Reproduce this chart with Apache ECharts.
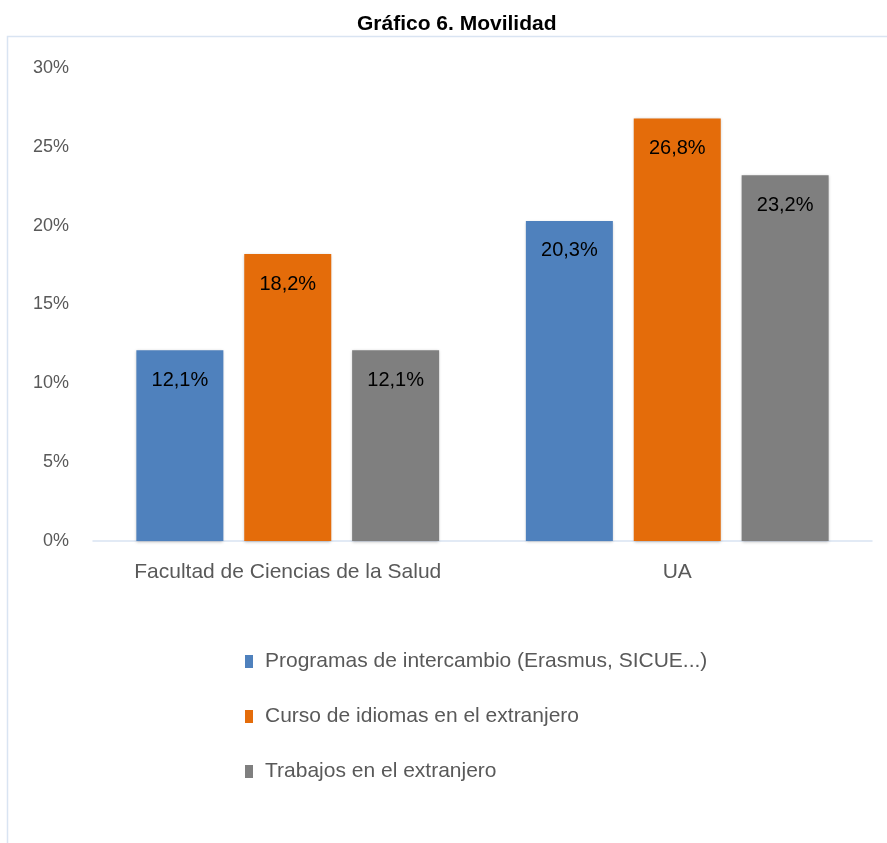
<!DOCTYPE html>
<html><head><meta charset="utf-8">
<script src="https://cdn.jsdelivr.net/npm/echarts@6/dist/echarts.min.js"></script>
<style>html,body{margin:0;padding:0;background:#fff}#c{width:887px;height:843px}</style>
</head><body><div id="c"></div>
<script>
const categories = ['Facultad de Ciencias de la Salud', 'UA'];
const seriesNames = ['Programas de intercambio (Erasmus, SICUE...)', 'Curso de idiomas en el extranjero', 'Trabajos en el extranjero'];
const intercambio = [12.1, 20.3];
const idiomas = [18.2, 26.8];
const trabajos = [12.1, 23.2];
const colors = ['#4F81BD', '#E46C0A', '#7F7F7F'];
const FONT = 'Liberation Sans';
const values = [intercambio, idiomas, trabajos];
const chart = echarts.init(document.getElementById('c'));
chart.setOption({
  animation: false,
  textStyle: {fontFamily: FONT},
  title: {text: 'Gráfico 6. Movilidad', left: 352, top: 9,
    textStyle: {fontFamily: FONT, fontSize: 21, fontWeight: 'bold', color: '#000'}},
  graphic: [{type: 'rect', shape: {x: 7.5, y: 36.5, width: 900, height: 900},
    style: {fill: 'none', stroke: '#D9E4F2', lineWidth: 1.5}, silent: true, z: -1}],
  legend: {orient: 'vertical', left: 240, top: 646, itemGap: 34, itemWidth: 8, itemHeight: 13,
    icon: 'rect', textStyle: {fontFamily: FONT, fontSize: 21, color: '#595959', padding: [0,0,0,7]}},
  grid: {left: 93, right: 15, top: 68, bottom: 302},
  xAxis: {type: 'category', data: categories,
    axisLine: {lineStyle: {color: '#D9E4F2', width: 1.5}}, axisTick: {show: false},
    axisLabel: {interval: 0, fontFamily: FONT, fontSize: 21, color: '#595959', margin: 21}},
  yAxis: {type: 'value', min: 0, max: 30, interval: 5,
    axisLine: {show: false}, axisTick: {show: false}, splitLine: {show: false},
    axisLabel: {formatter: '{value}%', fontFamily: FONT, fontSize: 18, color: '#595959', margin: 24}},
  series: values.map((v, i) => ({
    name: seriesNames[i], type: 'bar', data: v, barWidth: 87, barGap: '24%', barCategoryGap: '22%',
    itemStyle: {color: colors[i], shadowColor: 'rgba(0,0,0,0.25)', shadowBlur: 3, shadowOffsetY: 1},
    label: {show: true, position: 'insideTop', distance: 20, color: '#000', fontFamily: FONT, fontSize: 20,
      formatter: p => p.value.toFixed(1).replace('.', ',') + '%'}
  }))
});
</script></body></html>
